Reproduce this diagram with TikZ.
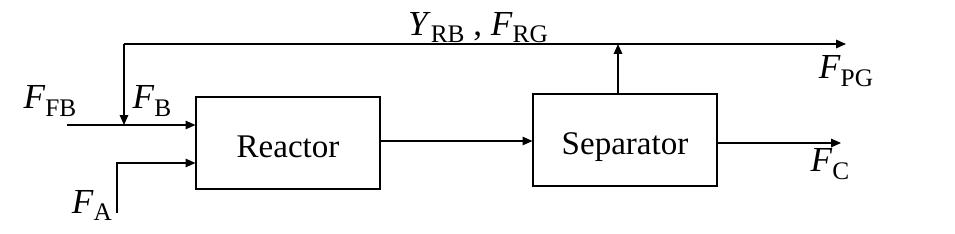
\documentclass[tikz,border=0pt]{standalone}
\usepackage{fontspec}
\setmainfont{Liberation Serif}
\usetikzlibrary{arrows.meta}
\newcommand{\flow}[2]{\textit{#1}\raisebox{-0.45ex}{\fontsize{18}{18}\selectfont #2}}

\begin{document}
\begin{tikzpicture}[font=\fontsize{23.5}{27}\selectfont,
  unit/.style={draw, line width=0.8pt, minimum width=4.6cm, minimum height=2.3cm,
    text height=0.75cm, text depth=0.05cm},
  stream/.style={line width=1pt, -{Triangle[length=7pt,width=6pt]}},
  pipe/.style={line width=1pt},
  lbl/.style={font=\fontsize{25}{28}\selectfont}]
  \useasboundingbox (0,0) rectangle (23.875,5.825);
  % Units
  \node[unit] (R) at (7.2,2.25) {Reactor};
  \node[unit] (S) at (15.625,2.325) {Separator};
  % Recycle loop
  \coordinate (top) at (15.45,4.725);
  \coordinate (corner) at (3.1,4.725);
  \coordinate (pg) at (21.15,4.725);
  \coordinate (mix) at (3.1,2.7);
  \coordinate (ffb) at (1.675,2.7);
  \draw[stream] (S.north -| top) -- (top);
  \draw[pipe] (top) -- (corner);
  \draw[stream] (top) -- (pg);
  \draw[stream] (corner) -- (mix);
  \draw[stream] (ffb) -- (ffb -| R.west);
  % Fresh A feed
  \coordinate (fa) at (2.925,0.5);
  \coordinate (fabend) at (2.925,1.75);
  \draw[stream] (fa) -- (fabend) -- (fabend -| R.west);
  % Product streams
  \coordinate (c) at (21.025,2.25);
  \draw[stream] (R.east |- 0,2.3) -- (S.west |- 0,2.3);
  \draw[stream] (S.east |- c) -- (c);
  % Labels
  \node[lbl] (lFB) at (1.25,3.3) {\flow{F}{FB}};
  \node[lbl] (lB) at (3.8,3.3) {\flow{F}{B}};
  \node[lbl] (lA) at (2.3,0.68) {\flow{F}{A}};
  \node[lbl] (lRG) at (11.95,5.13) {\flow{Y}{RB} , \flow{F}{RG}};
  \node[lbl] (lPG) at (21.15,4.05) {\flow{F}{PG}};
  \node[lbl] (lC) at (20.75,1.72) {\flow{F}{C}};
\end{tikzpicture}
\end{document}
